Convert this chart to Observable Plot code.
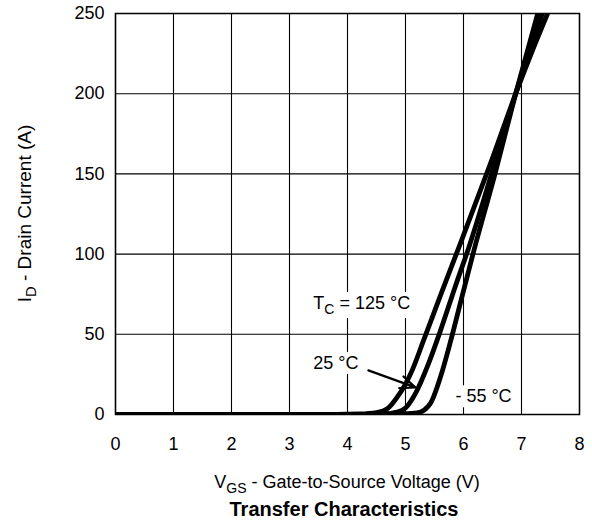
<!DOCTYPE html>
<html><head><meta charset="utf-8">
<script src="https://cdn.jsdelivr.net/npm/d3@7"></script>
<script src="https://cdn.jsdelivr.net/npm/@observablehq/plot@0.6"></script>
<style>body{margin:0;background:#fff;} svg{display:block;}</style>
</head><body><div id="chart"></div>
<script>
// Series data: VGS (V) and ID (A) for each case temperature
const seriesNames = ["125 °C", "25 °C", "-55 °C"];
const vgs125 = [0, 3.8, 4.2, 4.5, 4.7, 4.86, 5.0, 5.12, 5.31, 5.6, 5.95, 6.45, 6.9, 7.2, 7.45];
const id125  = [0, 0,   0.3, 1.2, 4,   11,   19,  28,   46,   74,  107,  155,  200, 228, 250];
const vgs25  = [0, 4.3, 4.6, 4.86, 5.0, 5.17, 5.4, 5.6, 5.86, 6.09, 6.5, 6.9, 7.36];
const id25   = [0, 0,   0.3, 1.5,  4,   13,   32,  52,  80,   104,  152, 200, 250];
const vgsM55 = [0, 4.6, 4.9, 5.2, 5.43, 5.6, 5.78, 5.95, 6.17, 6.55, 6.9, 7.28];
const idM55  = [0, 0,   0.3, 1,   7,    23,  46,   70,   101,  151,  200, 250];

const xTicks = [0, 1, 2, 3, 4, 5, 6, 7, 8];
const yTicks = [0, 50, 100, 150, 200, 250];

const annoLabel = ["T_{C} = 125 °C", "25 °C", "- 55 °C"];
const annoX = [3.41, 3.41, 5.86];
const annoY = [69.4, 32, 11.2];
const arrowFrom = [4.36, 27.5];
const arrowTo = [5.17, 16.9];

const xTitle = "V_{GS} - Gate-to-Source Voltage (V)";
const yTitle = "I_{D} - Drain Current (A)";
const chartTitle = "Transfer Characteristics";

const rows = [];
[[seriesNames[0], vgs125, id125], [seriesNames[1], vgs25, id25], [seriesNames[2], vgsM55, idM55]]
  .forEach(([name, xs, ys]) => xs.forEach((x, i) => rows.push({series: name, vgs: x, id: ys[i]})));
const annos = annoLabel.map((t, i) => ({t, x: annoX[i], y: annoY[i]}));
const arrows = [{x1: arrowFrom[0], y1: arrowFrom[1], x2: arrowTo[0], y2: arrowTo[1]}];

const FONT = "'Liberation Sans', Arial, Helvetica, sans-serif";
const W = 592, H = 527, ML = 115, MR = 13, MT = 13, MB = 113;

const plot = Plot.plot({
  width: W, height: H,
  marginLeft: ML, marginRight: MR, marginTop: MT, marginBottom: MB,
  style: {fontFamily: FONT, fontSize: "18px", color: "black", background: "white"},
  x: {domain: [0, 8]},
  y: {domain: [0, 250]},
  marks: [
    Plot.gridX(xTicks, {stroke: "black", strokeOpacity: 1, strokeWidth: 1.1}),
    Plot.gridY(yTicks, {stroke: "black", strokeOpacity: 1, strokeWidth: 1.1}),
    Plot.frame({stroke: "black", strokeWidth: 1.5}),
    Plot.axisX(xTicks, {tickSize: 0, tickPadding: 23, label: null, tickFormat: d => String(d)}),
    Plot.axisY(yTicks, {tickSize: 0, tickPadding: 11, label: null, tickFormat: d => String(d)}),
    Plot.text(annos, {x: "x", y: "y", text: "t", textAnchor: "start", fontSize: 18, fill: "black", className: "anno"}),
    Plot.line(rows, {x: "vgs", y: "id", z: "series", stroke: "black", strokeWidth: 4.8, curve: "monotone-x", clip: true}),
    Plot.arrow(arrows, {x1: "x1", y1: "y1", x2: "x2", y2: "y2", stroke: "black", strokeWidth: 2.2, headLength: 11, headAngle: 45})
  ]
});
document.getElementById("chart").appendChild(plot);

const ns = "http://www.w3.org/2000/svg";
function setSubText(el, str, size) {
  el.textContent = "";
  const parts = str.split(/(_\{[^}]*\})/);
  let sub = false;
  parts.forEach(p => {
    if (!p) return;
    const ts = document.createElementNS(ns, "tspan");
    if (p.startsWith("_{")) {
      ts.textContent = p.slice(2, -1);
      ts.setAttribute("font-size", (size * 0.78) + "px");
      ts.setAttribute("dy", (size * 0.28) + "px");
      sub = true;
    } else {
      ts.textContent = p;
      if (sub) { ts.setAttribute("dy", (-size * 0.28) + "px"); sub = false; }
    }
    el.appendChild(ts);
  });
}

const svg = d3.select(plot.tagName.toLowerCase() === "svg" ? plot : plot.querySelector("svg"));

// annotation labels: subscripts and white backing boxes
const annoGroup = svg.select("g.anno").node() || svg.selectAll("g[aria-label='text']").node();
const annoTexts = d3.select(annoGroup).selectAll("text").nodes();
annoTexts.forEach((el, i) => {
  if (annoLabel[i] && annoLabel[i].includes("_{")) setSubText(el, annoLabel[i], 18);
});
const boxG = document.createElementNS(ns, "g");
annoGroup.parentNode.insertBefore(boxG, annoGroup);
annoTexts.forEach(el => {
  const b = el.getBBox();
  const ctm = el.getAttribute("transform");
  const r = document.createElementNS(ns, "rect");
  r.setAttribute("x", b.x - 2); r.setAttribute("y", b.y - 1);
  r.setAttribute("width", b.width + 4); r.setAttribute("height", b.height + 2);
  r.setAttribute("fill", "white");
  const gt = annoGroup.getAttribute("transform");
  const tr = ((gt || "") + " " + (ctm || "")).trim();
  if (tr) r.setAttribute("transform", tr);
  boxG.appendChild(r);
});

// axis titles and chart title
const cx = ML + (W - ML - MR) / 2;
const xt = svg.append("text").attr("x", cx).attr("y", 488).attr("text-anchor", "middle")
  .attr("font-family", FONT).attr("font-size", 18).attr("fill", "black").node();
setSubText(xt, xTitle, 18);
const yt = svg.append("text").attr("transform", `translate(31,${MT + (H - MT - MB) / 2}) rotate(-90)`)
  .attr("text-anchor", "middle").attr("font-family", FONT).attr("font-size", 19).attr("fill", "black").node();
setSubText(yt, yTitle, 19);
svg.append("text").attr("x", cx - 3).attr("y", 516).attr("text-anchor", "middle")
  .attr("font-family", FONT).attr("font-size", 20).attr("font-weight", "bold").attr("fill", "black")
  .text(chartTitle);
</script>
</body></html>
